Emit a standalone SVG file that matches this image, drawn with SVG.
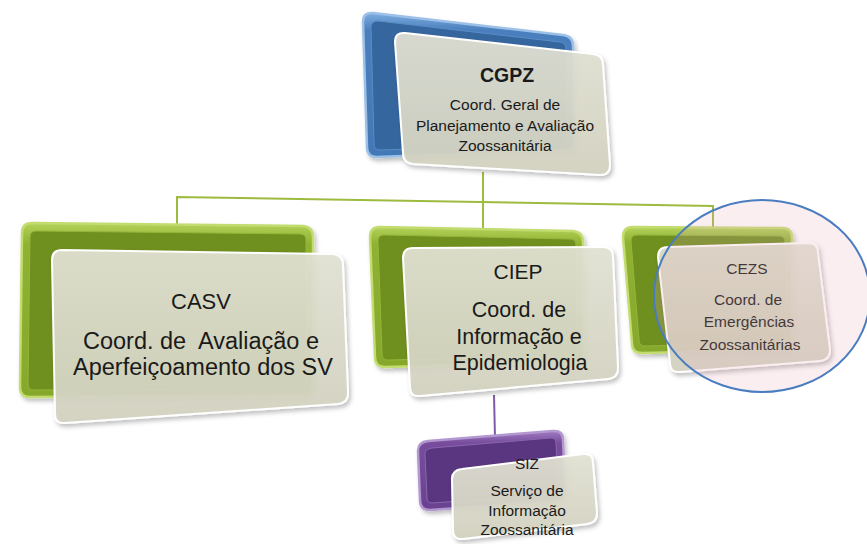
<svg xmlns="http://www.w3.org/2000/svg" width="867" height="544" viewBox="0 0 867 544">
<defs>
<linearGradient id="gBlue" x1="0" y1="0" x2="0" y2="1"><stop offset="0" stop-color="#7eaee0"/><stop offset="0.12" stop-color="#4a7fbd"/><stop offset="1" stop-color="#4278b5"/></linearGradient>
<linearGradient id="gGreen" x1="0" y1="0" x2="0" y2="1"><stop offset="0" stop-color="#b4d25a"/><stop offset="0.12" stop-color="#8fb232"/><stop offset="1" stop-color="#86a82c"/></linearGradient>
<linearGradient id="gPurple" x1="0" y1="0" x2="0" y2="1"><stop offset="0" stop-color="#a27cc4"/><stop offset="0.15" stop-color="#774d9c"/><stop offset="1" stop-color="#6a4290"/></linearGradient>
<linearGradient id="gCard" x1="0" y1="0" x2="0" y2="1"><stop offset="0" stop-color="#e2e2d4"/><stop offset="1" stop-color="#d3d2c0"/></linearGradient>
<filter id="sh" x="-10%" y="-10%" width="130%" height="130%"><feDropShadow dx="2" dy="3" stdDeviation="2" flood-color="#000" flood-opacity="0.25"/></filter>
</defs>
<style>
.back{stroke-width:2.5;filter:url(#sh)}
.blue{fill:url(#gBlue);stroke:#9cc0e8}
.green{fill:url(#gGreen);stroke:#c2dc70}
.purple{fill:url(#gPurple);stroke:#b397d0}
.inB{fill:#36669e;stroke:#5a8cc6;stroke-width:1}
.inG{fill:#6f8f1e;stroke:#94b53a;stroke-width:1}
.inP{fill:#5a3580;stroke:#8a66ae;stroke-width:1}
.card{fill:url(#gCard);fill-opacity:0.93;stroke:#ffffff;stroke-width:2;filter:url(#sh)}
.t{font-family:"Liberation Sans",Arial,sans-serif;fill:#1a1a1a;text-anchor:middle}
.conn{fill:none;stroke-width:2}
</style>
<g id="connectors">
<polyline class="conn" stroke="#9dbb3e" points="177,224 177,197 713,206 713,228"/>
<line class="conn" stroke="#9dbb3e" x1="483" y1="172" x2="483" y2="228"/>
<line class="conn" stroke="#7d5ba6" x1="494" y1="395" x2="495" y2="438"/>
</g>
<g id="CGPZ">
<path class="back blue" d="M373,13 L563,35 Q573,36 573,46 L574,140 Q574,150 564,150 L377,157 Q367,157 367,147 L363,22 Q363,12 373,13 Z"/>
<path class="inB" d="M378,21 L560,42 Q566,43 566,49 L567,138 Q567,144 561,144 L380,150 Q374,150 374,144 L371,27 Q371,21 378,21 Z"/>
<path class="card" d="M405,33 L593,54 Q603,55 603,65 L610,165 Q610,175 600,175 L413,164 Q403,163 403,153 L395,42 Q395,32 405,33 Z"/>
<text class="t" x="507" y="82" font-size="19.5" font-weight="bold">CGPZ</text>
<text class="t" x="505" y="110" font-size="15.5">Coord. Geral de</text>
<text class="t" x="505" y="131" font-size="15.5">Planejamento e Avaliação</text>
<text class="t" x="505" y="151" font-size="15.5">Zoossanitária</text>
</g>
<g id="CASV">
<path class="back green" d="M32,223 L303,226 Q313,227 313,237 L313,385 Q313,395 303,395 L30,397 Q20,397 20,387 L22,233 Q22,223 32,223 Z"/>
<path class="inG" d="M36,231 L300,234 Q306,234 306,240 L306,382 Q306,388 300,388 L34,390 Q28,390 28,384 L30,237 Q30,231 36,231 Z"/>
<path class="card" d="M62,250 L333,254 Q343,255 343,265 L348,393 Q348,403 338,404 L65,423 Q55,424 55,414 L52,260 Q52,250 62,250 Z"/>
<text class="t" x="201" y="309" font-size="22">CASV</text>
<text class="t" x="201" y="349" font-size="23.5" xml:space="preserve">Coord. de  Avaliação e</text>
<text class="t" x="203" y="375" font-size="23.5">Aperfeiçoamento dos SV</text>
</g>
<g id="CIEP">
<path class="back green" d="M380,227 L573,231 Q583,232 583,242 L584,352 Q584,362 574,362 L385,367 Q375,367 375,357 L370,237 Q370,227 380,227 Z"/>
<path class="inG" d="M384,235 L570,239 Q576,239 576,245 L577,349 Q577,355 571,355 L388,360 Q382,360 382,354 L378,241 Q378,235 384,235 Z"/>
<path class="card" d="M413,248 L603,247 Q613,247 613,257 L618,368 Q618,378 608,379 L420,396 Q410,397 410,387 L403,258 Q403,248 413,248 Z"/>
<text class="t" x="518" y="279" font-size="21">CIEP</text>
<text class="t" x="519" y="317" font-size="21.5">Coord. de</text>
<text class="t" x="519" y="344" font-size="21.5">Informação e</text>
<text class="t" x="520" y="370" font-size="21.5">Epidemiologia</text>
</g>
<g id="CEZS">
<path class="back green" d="M633,227 L782,228 Q792,228 792,238 L792,343 Q792,350 782,350 L642,353 Q632,353 632,343 L623,237 Q623,227 633,227 Z"/>
<path class="inG" d="M637,235 L779,236 Q785,236 785,242 L785,338 Q785,343 779,343 L645,346 Q639,346 639,340 L631,241 Q631,235 637,235 Z"/>
<path class="card" d="M668,247 L808,243 Q818,243 818,253 L830,350 Q830,360 820,361 L680,372 Q670,373 670,363 L658,257 Q658,247 668,247 Z"/>
<text class="t" x="747" y="274" font-size="15.5">CEZS</text>
<text class="t" x="748" y="305" font-size="15.5">Coord. de</text>
<text class="t" x="749" y="327" font-size="15.5">Emergências</text>
<text class="t" x="750" y="350" font-size="15.5">Zoossanitárias</text>
</g>
<g id="highlight">
<ellipse cx="762" cy="296" rx="108" ry="96" fill="#e8a8b8" fill-opacity="0.2" stroke="#4a7cc0" stroke-width="2"/>
</g>
<g id="SIZ">
<path class="back purple" d="M428,441 L553,431 Q563,430 563,440 L565,490 Q565,500 555,501 L430,510 Q420,510 420,500 L418,451 Q418,442 428,441 Z"/>
<path class="inP" d="M432,448 L551,438 Q556,438 556,443 L558,488 Q558,493 553,494 L432,503 Q427,503 427,498 L425,454 Q425,449 432,448 Z"/>
<path class="card" d="M462,469 L583,454 Q593,453 593,463 L597,513 Q597,523 587,524 L463,539 Q453,540 453,530 L452,479 Q452,470 462,469 Z"/>
<text class="t" x="527" y="469" font-size="15.5">SIZ</text>
<text class="t" x="527" y="496" font-size="15.5">Serviço de</text>
<text class="t" x="527" y="516" font-size="15.5">Informação</text>
<text class="t" x="527" y="535" font-size="15.5">Zoossanitária</text>
</g>
</svg>
